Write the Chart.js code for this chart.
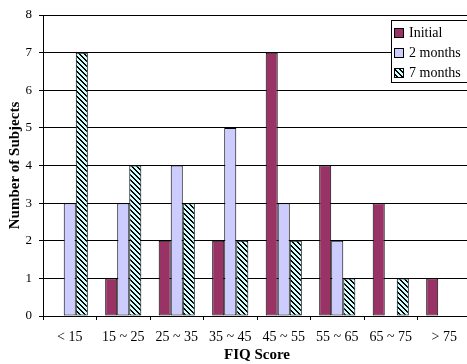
<!DOCTYPE html>
<html>
<head>
<meta charset="utf-8">
<script src="https://cdn.jsdelivr.net/npm/chart.js@4/dist/chart.umd.min.js"></script>
<style>
  html, body { margin: 0; padding: 0; background: #fff; overflow: hidden; }
  #wrap { width: 472px; height: 364px; }
</style>
</head>
<body>
<div id="wrap"><canvas id="myChart" width="472" height="364"></canvas></div>
<script>
const categories = ["< 15", "15 ~ 25", "25 ~ 35", "35 ~ 45", "45 ~ 55", "55 ~ 65", "65 ~ 75", "> 75"];
const initial = [0, 1, 2, 2, 7, 4, 3, 1];
const twoMonths = [3, 3, 4, 5, 3, 2, 0, 0];
const sevenMonths = [7, 4, 3, 2, 2, 1, 1, 0];
const seriesNames = ["Initial", "2 months", "7 months"];

const serif = "'Liberation Serif', 'Times New Roman', serif";

// motif hachuré (diagonales descendantes)
function makeHatch() {
  const n = 5;
  const c = document.createElement("canvas");
  c.width = n;
  c.height = n;
  const g = c.getContext("2d");
  g.fillStyle = "#ccffff";
  g.fillRect(0, 0, n, n);
  g.fillStyle = "#000";
  for (let i = 0; i < n; i++) {
    g.fillRect(i, i, 1, 1);
    g.fillRect((i + 1) % n, i, 1, 1);
  }
  return g.createPattern(c, "repeat");
}

const ctx = document.getElementById("myChart");
const hatch = makeHatch();

const legendBox = {
  id: "legendBox",
  afterDraw(chart) {
    const g = chart.ctx;
    g.save();
    g.fillStyle = "#fff";
    g.fillRect(391, 20, 90, 62);
    g.strokeStyle = "#000";
    g.lineWidth = 1;
    g.strokeRect(391.5, 20.5, 90, 62);
    g.font = "14px " + serif;
    g.textBaseline = "middle";
    chart.data.datasets.forEach((ds, i) => {
      const y = 33 + i * 20;
      g.fillStyle = ds.backgroundColor;
      g.fillRect(395, y - 4, 8, 8);
      g.strokeStyle = "#000";
      g.strokeRect(394.5, y - 4.5, 9, 9);
      g.fillStyle = "#000";
      g.fillText(ds.label, 409, y);
    });
    g.restore();
  }
};

new Chart(ctx, {
  type: "bar",
  data: {
    labels: categories,
    datasets: [
      { label: seriesNames[0], data: initial, backgroundColor: "#993366" },
      { label: seriesNames[1], data: twoMonths, backgroundColor: "#ccccff" },
      { label: seriesNames[2], data: sevenMonths, backgroundColor: hatch }
    ].map((d) => ({ ...d, borderColor: "#000", borderWidth: 1, borderSkipped: false, categoryPercentage: 0.675, barPercentage: 1 }))
  },
  options: {
    responsive: false,
    animation: false,
    layout: { padding: { top: 15, right: 1, left: 0, bottom: 0 } },
    scales: {
      x: {
        grid: { drawOnChartArea: false, drawTicks: true, tickLength: 4, color: "#000", offset: true },
        border: { color: "#000" },
        ticks: { color: "#000", padding: 9, font: { family: serif, size: 14 }, maxRotation: 0 },
        title: { display: true, text: "FIQ Score", color: "#000", padding: { top: 2, bottom: 0 }, font: { family: serif, size: 15, weight: "bold" } },
        afterFit(scale) { scale.height = 48; }
      },
      y: {
        min: 0,
        max: 8,
        grid: { color: "#000", tickLength: 4 },
        border: { color: "#000" },
        ticks: { stepSize: 1, color: "#000", padding: 7, font: { family: serif, size: 13 } },
        title: { display: true, text: "Number of Subjects", color: "#000", padding: { top: 6, bottom: 0 }, font: { family: serif, size: 15, weight: "bold" } },
        afterFit(scale) { scale.width = 43; }
      }
    },
    plugins: {
      legend: { display: false },
      tooltip: { enabled: false }
    }
  },
  plugins: [legendBox]
});
</script>
</body>
</html>
